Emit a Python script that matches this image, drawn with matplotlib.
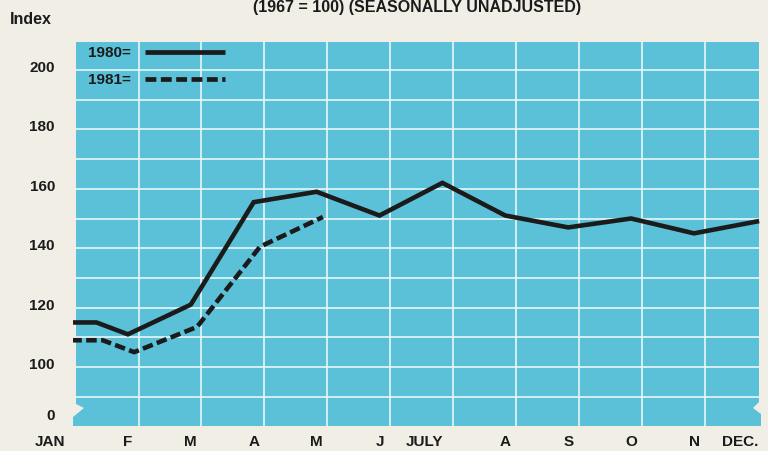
import numpy as np
import matplotlib
matplotlib.use("Agg")
import matplotlib.pyplot as plt
from matplotlib.patches import Polygon
from matplotlib.lines import Line2D
from matplotlib import transforms

# ---------------- data ----------------
month_labels = ["JAN", "F", "M", "A", "M", "J", "JULY", "A", "S", "O", "N", "DEC."]
index_1980 = [115, 111, 121, 155.5, 159, 151, 162, 151, 147, 150, 145, 149]
index_1981 = [109, 105, 113.5, 140.5, 150.5]
ytick_values = [100, 120, 140, 160, 180, 200]
ytick_labels = ["100", "120", "140", "160", "180", "200"]

# ---------------- layout ----------------
W, H = 768, 452
PAPER = "#f1eee5"
BLUE = "#5bc1d8"
INK = "#1b1b1b"
FONT = "Liberation Sans"

# pixel frame of the panel box
L, R, T, B = 73, 762, 43, 427
x_px0, x_step = 65.0, 62.9           # pixel of month 0, pixels per month
y_px100, y_unit = 368.0, 2.97        # pixel of value 100, pixels per unit
xlim = ((L - x_px0) / x_step, (R - x_px0) / x_step)
ylim = (100 + (y_px100 - B) / y_unit, 100 + (y_px100 - T) / y_unit)
zero_pos = 100 + (y_px100 - 416) / y_unit   # where "0" sits on the broken axis
jan_hold = 0.5                                # January drawn flat until here
shift_1981 = 0.1
label_shift = {0: -0.24, 6: -0.28, 11: -0.27}

fig = plt.figure(figsize=(W / 100, H / 100), dpi=100, facecolor=PAPER)
ax = fig.add_axes([L / W, 1 - B / H, (R - L) / W, (B - T) / H])
ax.set_xlim(*xlim)
ax.set_ylim(*ylim)
ax.set_facecolor("none")
for s in ax.spines.values():
    s.set_visible(False)
ax.set_xticks([])
ax.set_yticks([])

def pax(px, py):
    return ((px - L) / (R - L), (B - py) / (B - T))

outline_px = [(76, 43), (759, 43), (759, 403), (753, 409), (761, 415), (761, 427),
              (73, 427), (73, 418), (84, 409), (76, 405)]
panel = Polygon([pax(*p) for p in outline_px], closed=True, transform=ax.transAxes,
                facecolor=BLUE, edgecolor="none", zorder=0)
ax.add_patch(panel)

# grid
for v in np.arange(90, 201, 10):
    ln = ax.axhline(v, color="#e9f7fa", lw=1.2, zorder=1)
    ln.set_clip_path(panel)
for m in np.arange(1, 11) + 0.17:
    ln = ax.axvline(m, color="#e9f7fa", lw=1.2, zorder=1)
    ln.set_clip_path(panel)

# series
x80 = np.r_[0, jan_hold, np.arange(1, len(index_1980))]
y80 = np.r_[index_1980[0], index_1980]
ax.plot(x80, y80, color=INK, lw=3.3, solid_joinstyle="miter", zorder=3)

x81 = np.r_[0, jan_hold, np.arange(1, len(index_1981))] + shift_1981
y81 = np.r_[index_1981[0], index_1981]
ax.plot(x81, y81, color=INK, lw=3.3, dashes=(2.3, 0.95), dash_capstyle="butt",
        zorder=3)

# legend (drawn by hand, like the original)
for py, label, style in [(53, "1980=", dict()), (80, "1981=", dict(dashes=(2.3, 0.95)))]:
    x0, y0 = pax(145, py)
    x1, _ = pax(225, py)
    ax.add_line(Line2D([x0, x1], [y0, y0], transform=ax.transAxes, color=INK,
                       lw=3.4, solid_capstyle="butt", dash_capstyle="butt", zorder=4, **style))
    tx, ty = pax(131, py)
    ax.text(tx, ty, label, transform=ax.transAxes, ha="right", va="center",
            fontsize=11, fontweight="bold", family=FONT, color=INK, zorder=4)

# y tick labels
ylab_x = 55 / W
tr_y = transforms.blended_transform_factory(fig.transFigure, ax.transData)
up = transforms.ScaledTranslation(0, 3 / 100, fig.dpi_scale_trans)
for v, lab in zip(ytick_values, ytick_labels):
    fig.text(ylab_x, v, lab, transform=tr_y + up, ha="right", va="center",
             fontsize=11, fontweight="bold", family=FONT, color=INK)
fig.text(ylab_x, zero_pos, "0", transform=tr_y, ha="right", va="center",
         fontsize=11, fontweight="bold", family=FONT, color=INK)

# x tick labels
tr_x = transforms.blended_transform_factory(ax.transData, fig.transFigure)
for i, lab in enumerate(month_labels):
    fig.text(i + label_shift.get(i, 0), 1 - 442 / H, lab, transform=tr_x,
             ha="center", va="center", fontsize=11, fontweight="bold",
             family=FONT, color=INK)

# header texts
fig.text(10 / W, 1 - 19 / H, "Index", ha="left", va="center", fontsize=11.5,
         fontweight="bold", family=FONT, color=INK)
fig.text(417 / W, 1 - 12 / H, "(1967 = 100) (SEASONALLY UNADJUSTED)", ha="center",
         va="baseline", fontsize=11.5, fontweight="bold", family=FONT, color=INK)

fig.savefig("out.png", dpi=100, facecolor=PAPER)
